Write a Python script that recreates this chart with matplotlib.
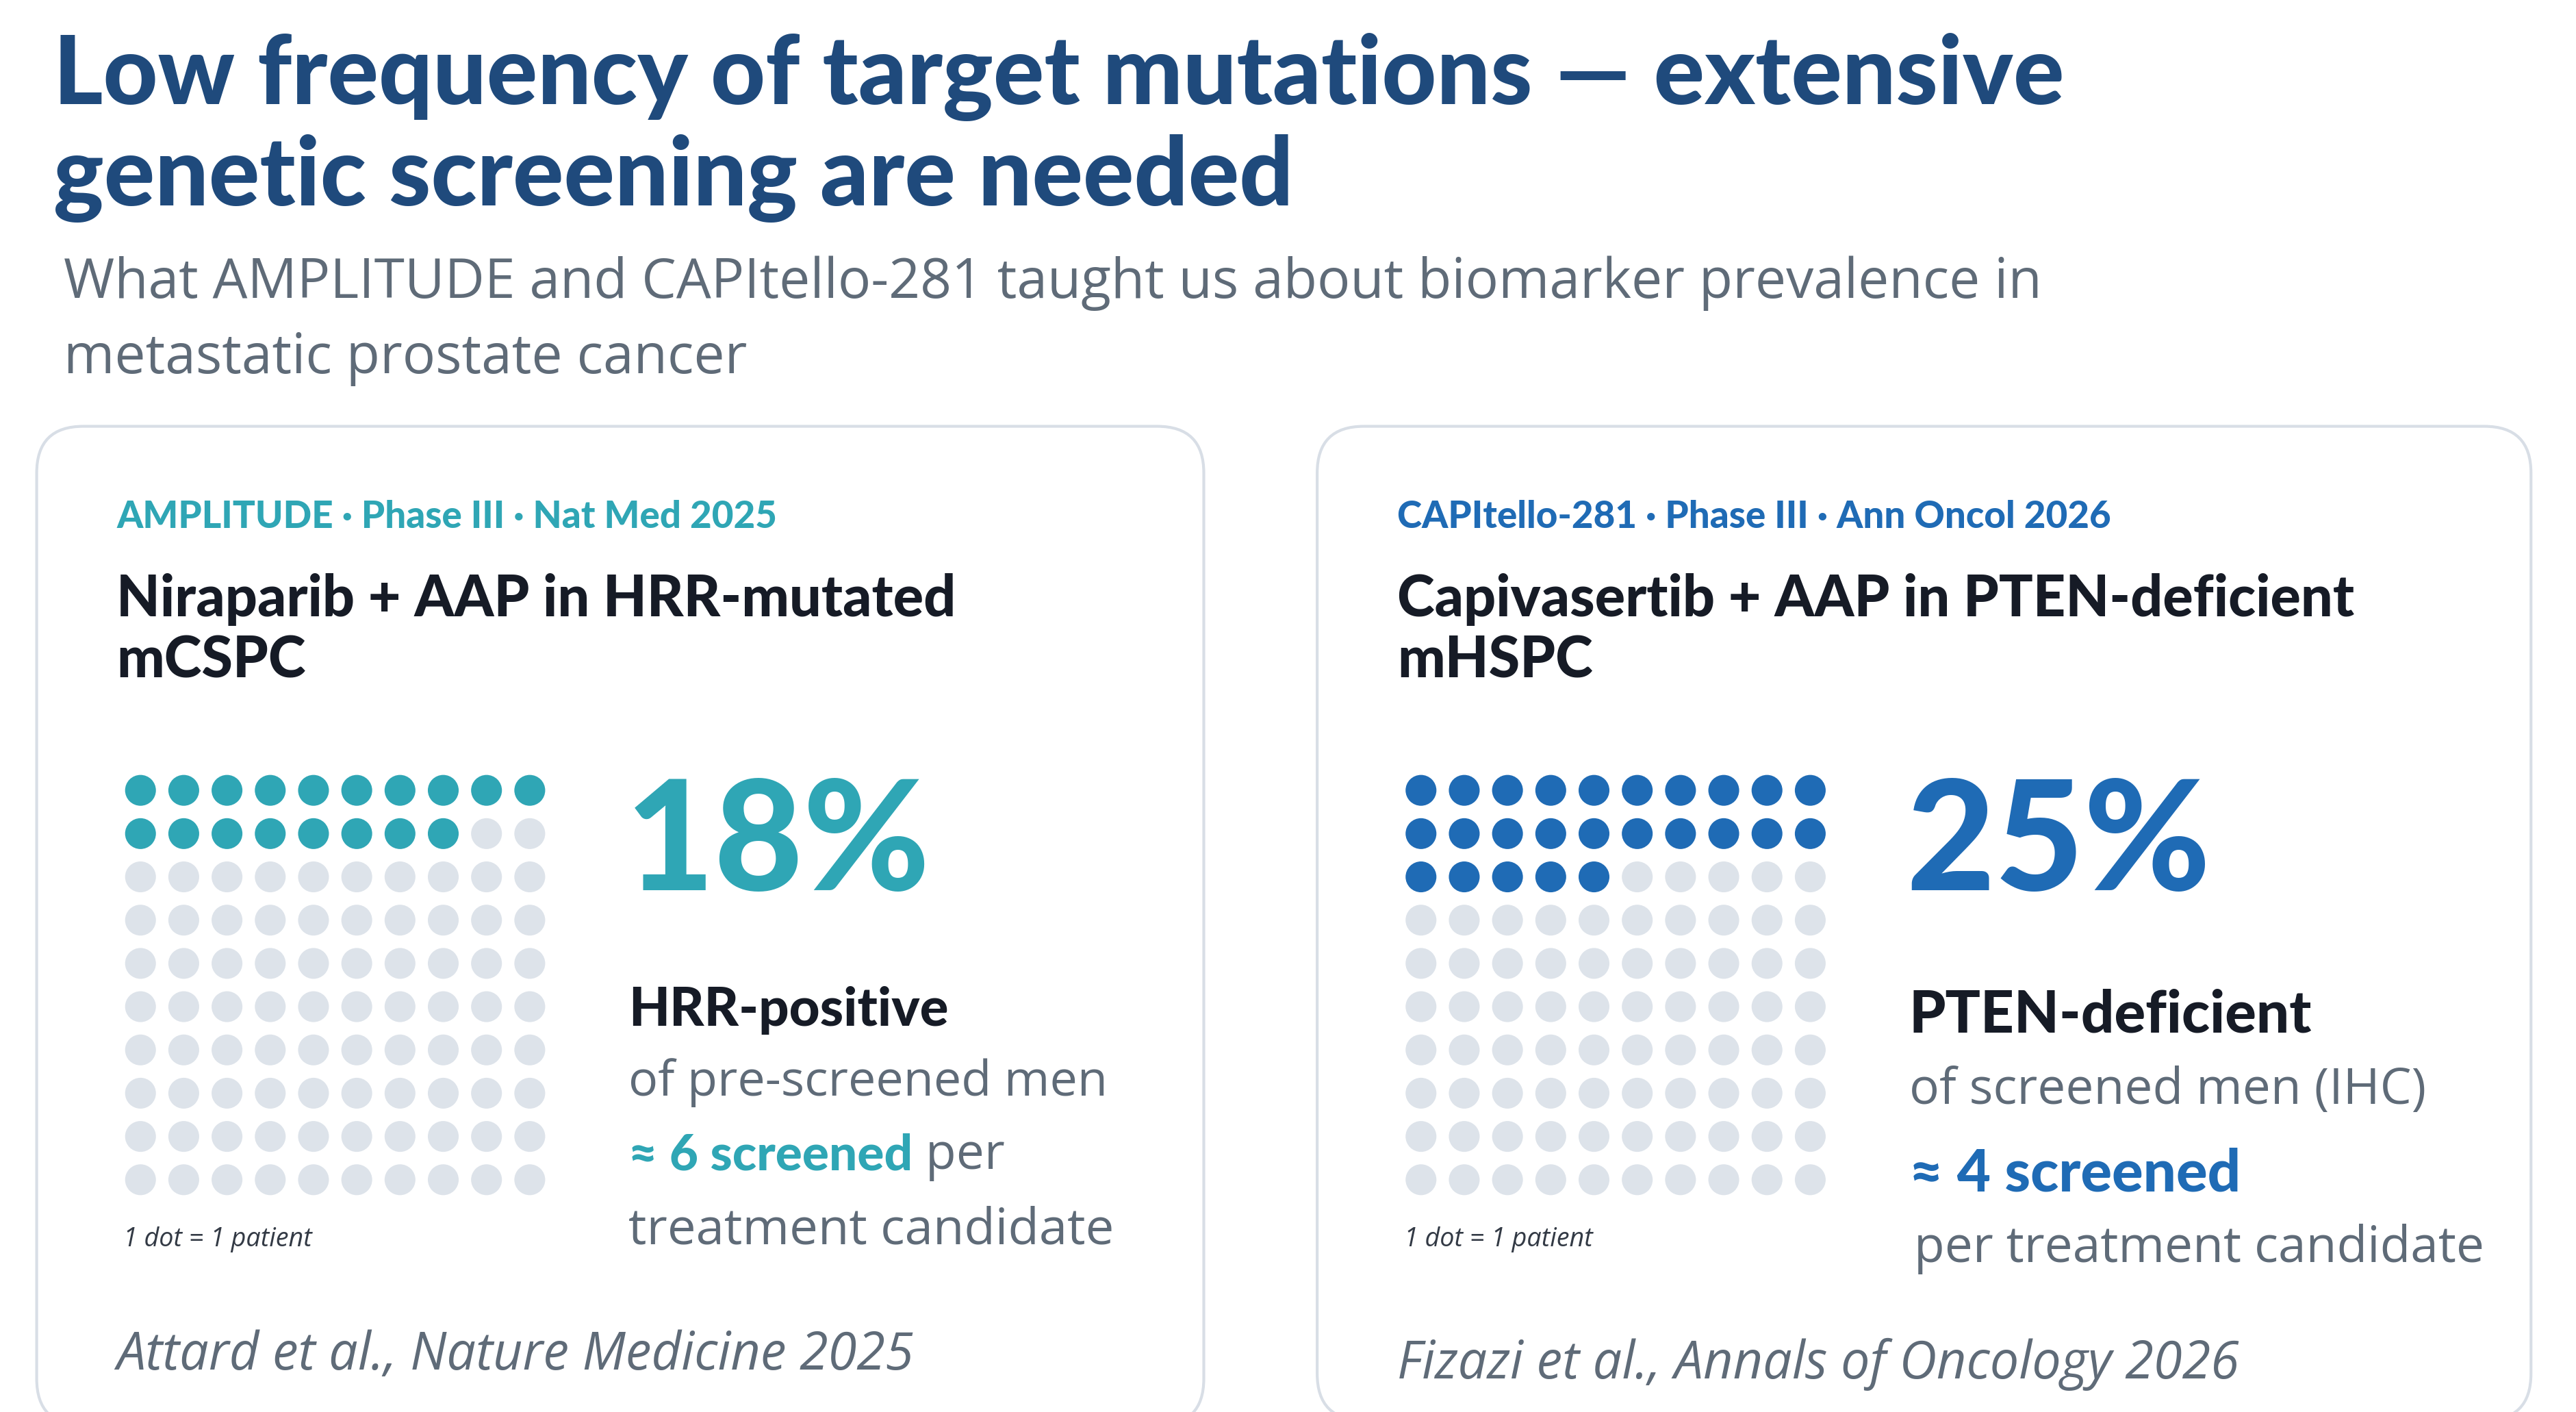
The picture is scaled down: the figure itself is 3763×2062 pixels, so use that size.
import matplotlib
matplotlib.use('Agg')
import matplotlib.pyplot as plt
from matplotlib.patches import FancyBboxPatch

# --- 設定 ---
W, H = 1545, 847          # layout units (reference display px)
S = 2.4356                # -> output px
def pt(px):               # display-px em size -> points
    return px * S * 72 / 100

navy = '#1f4a7c'
grey_txt = '#5f6b78'
dark = '#161b26'
dot_off = '#dde3ea'

panels = [
    dict(x0=22, x1=722, y0=256, y1=855, color='#2fa6b5', n=18, pct='18%',
         header='AMPLITUDE · Phase III · Nat Med 2025',
         title='Niraparib + AAP in HRR-mutated\nmCSPC',
         label='HRR-positive', sub='of pre-screened men',
         cite='Attard et al., Nature Medicine 2025', style='a'),
    dict(x0=790, x1=1518, y0=256, y1=852, color='#1f6bb5', n=25, pct='25%',
         header='CAPItello-281 · Phase III · Ann Oncol 2026',
         title='Capivasertib + AAP in PTEN-deficient\nmHSPC',
         label='PTEN-deficient', sub='of screened men (IHC)',
         cite='Fizazi et al., Annals of Oncology 2026', style='b'),
]

fig = plt.figure(figsize=(W * S / 100, H * S / 100), dpi=100)
fig.patch.set_facecolor('white')
ax = fig.add_axes([0, 0, 1, 1])
ax.set_xlim(0, W)
ax.set_ylim(H, 0)
ax.axis('off')

head = 'Lato'
body = 'Open Sans'

ax.text(32, 46, 'Low frequency of target mutations — extensive', fontsize=pt(57),
        fontweight='black', family=head, color=navy, va='center')
ax.text(32, 107, 'genetic screening are needed', fontsize=pt(57),
        fontweight='black', family=head, color=navy, va='center')
ax.text(38, 170, 'What AMPLITUDE and CAPItello-281 taught us about biomarker prevalence in',
        fontsize=pt(33), family=body, color=grey_txt, va='center')
ax.text(38, 215, 'metastatic prostate cancer', fontsize=pt(33), family=body,
        color=grey_txt, va='center')

for p in panels:
    box = FancyBboxPatch((p['x0'], p['y0']), p['x1'] - p['x0'], p['y1'] - p['y0'],
                         boxstyle='round,pad=0,rounding_size=28', linewidth=3,
                         edgecolor='#d8dee6', facecolor='white')
    ax.add_patch(box)
    lx = p['x0'] + 48
    ax.text(lx, 310, p['header'], fontsize=pt(22.5), fontweight='black', family=head,
            color=p['color'], va='center')
    ax.text(lx, 378, p['title'], fontsize=pt(34), fontweight='black', family=head,
            color=dark, va='center', linespacing=1.2)

    # waffle (10 x 10)
    dx = p['x0'] + 48
    wax = fig.add_axes([dx / W, 1 - 722 / H, 262 / W, 262 / H])
    wax.set_xlim(-0.55, 9.55)
    wax.set_ylim(9.55, -0.55)
    wax.axis('off')
    xs = [i % 10 for i in range(100)]
    ys = [i // 10 for i in range(100)]
    cols = [p['color'] if i < p['n'] else dot_off for i in range(100)]
    wax.scatter(xs, ys, s=(18.5 * S * 0.72) ** 2, c=cols, linewidths=0)
    ax.text(dx + 4, 743, '1 dot = 1 patient', fontsize=pt(15.5), style='italic',
            family=body, color='#333a45', va='center')

    tx = p['x0'] + 355
    ax.text(tx - 2, 507, p['pct'], fontsize=pt(92), fontweight='black', family=head,
            color=p['color'], va='center')
    if p['style'] == 'a':
        ax.text(tx, 606, p['label'], fontsize=pt(32), fontweight='black', family=head,
                color=dark, va='center')
        ax.text(tx, 649, p['sub'], fontsize=pt(29.5), family=body, color=grey_txt, va='center')
        t = ax.text(tx, 693, '≈ 6 screened', fontsize=pt(30), fontweight='black',
                    family=head, color=p['color'], va='center')
        ax.annotate(' per', xycoords=t, xy=(1, 0.5), va='center', ha='left',
                    fontsize=pt(30), family=body, color=grey_txt)
        ax.text(tx, 738, 'treatment candidate', fontsize=pt(30.5), family=body,
                color=grey_txt, va='center')
        ax.text(lx, 813, p['cite'], fontsize=pt(31), style='italic', family=body,
                color=grey_txt, va='center')
    else:
        ax.text(tx, 609, p['label'], fontsize=pt(35), fontweight='black', family=head,
                color=dark, va='center')
        ax.text(tx, 654, p['sub'], fontsize=pt(30), family=body, color=grey_txt, va='center')
        ax.text(tx, 704, '≈ 4 screened', fontsize=pt(35), fontweight='black',
                family=head, color=p['color'], va='center')
        ax.text(tx + 3, 749, 'per treatment candidate', fontsize=pt(30), family=body,
                color=grey_txt, va='center')
        ax.text(lx, 818, p['cite'], fontsize=pt(31), style='italic', family=body,
                color=grey_txt, va='center')

plt.savefig('out.png', dpi=100)
